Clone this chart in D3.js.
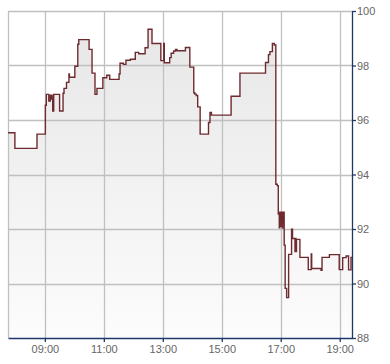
<!DOCTYPE html>
<html>
<head>
<meta charset="utf-8">
<script src="https://cdn.jsdelivr.net/npm/d3@7"></script>
<style>
  body { margin: 0; background: #fff; }
  svg text { font-family: Arial, "Liberation Sans", sans-serif; font-size: 11px; fill: #666; }
</style>
</head>
<body>
<svg id="chart" width="390" height="364"></svg>
<script>
// intraday price, step changes (time the price was set, price)
const times = [
    "07:45", "07:59", "08:44", "09:01", "09:03", "09:08", "09:11", "09:13", "09:14", "09:15",
    "09:16", "09:18", "09:30", "09:37", "09:39", "09:44", "09:49", "09:50", "10:01", "10:07",
    "10:09", "10:30", "10:36", "10:42", "10:46", "10:58", "11:06", "11:12", "11:31", "11:33",
    "11:40", "11:45", "11:54", "12:04", "12:11", "12:24", "12:30", "12:38", "12:56", "13:02",
    "13:03", "13:14", "13:17", "13:22", "13:26", "13:29", "13:46", "13:55", "14:03", "14:05",
    "14:08", "14:11", "14:16", "14:33", "14:36", "14:39", "15:19", "15:37", "16:29", "16:35",
    "16:38", "16:43", "16:47", "16:50", "16:53", "16:55", "16:57", "16:58", "16:59", "17:00",
    "17:01", "17:02", "17:03", "17:04", "17:05", "17:06", "17:07", "17:09", "17:12", "17:16",
    "17:22", "17:24", "17:29", "17:30", "17:31", "17:32", "17:39", "17:56", "18:02", "18:03",
    "18:22", "18:24", "18:39", "18:59", "19:06", "19:13", "19:18", "19:23", "19:25"
];
const prices = [
    95.53, 94.96, 95.48, 96.54, 96.94, 96.70, 96.91, 96.77, 96.90, 96.77,
    96.33, 96.94, 96.33, 96.98, 97.16, 97.38, 97.69, 97.57, 97.97, 98.78,
    98.95, 98.59, 97.72, 96.94, 97.16, 97.55, 97.64, 97.49, 97.69, 98.08,
    98.04, 98.19, 98.23, 98.48, 98.43, 98.65, 99.33, 98.81, 98.18, 98.81,
    98.10, 98.29, 98.45, 98.53, 98.59, 98.54, 98.66, 97.94, 97.00, 96.95,
    96.90, 96.48, 95.48, 95.91, 96.28, 96.18, 96.87, 97.72, 98.11, 98.40,
    98.51, 98.81, 98.75, 93.64, 93.59, 92.55, 92.04, 92.62, 92.10, 92.62,
    92.30, 92.62, 92.04, 92.62, 92.20, 92.62, 91.41, 89.82, 89.48, 91.07,
    91.99, 91.65, 91.17, 91.65, 91.17, 91.62, 90.96, 90.51, 91.08, 90.55,
    90.48, 90.96, 91.06, 90.51, 90.95, 91.01, 90.50, 90.96, 90.96
];
const timeTicks = ["09:00", "11:00", "13:00", "15:00", "17:00", "19:00"];
const priceTicks = [88, 90, 92, 94, 96, 98, 100];
const timeStart = "07:45";
const timeEnd = "19:25";

const parseTime = d3.timeParse("%H:%M");
const data = times.map((t, i) => ({ time: parseTime(t), price: prices[i] }));

const width = 390, height = 364;
const margin = { top: 11, right: 38, bottom: 26, left: 8 };

let svg = d3.select('svg#chart');

let x = d3.scaleTime()
    .domain([parseTime(timeStart), parseTime(timeEnd)])
    .range([margin.left, width - margin.right]);

let y = d3.scaleLinear()
    .domain([d3.min(priceTicks), d3.max(priceTicks)])
    .range([height - margin.bottom, margin.top]);

// background fill gradient
let grad = svg.append('defs').append('linearGradient')
    .attr('id', 'fill')
    .attr('gradientUnits', 'userSpaceOnUse')
    .attr('x1', 0).attr('x2', 0)
    .attr('y1', y(100)).attr('y2', y(88));
grad.append('stop').attr('offset', 0).attr('stop-color', '#e6e6e6');
grad.append('stop').attr('offset', 1).attr('stop-color', '#fcfcfc');

let area = d3.area()
    .curve(d3.curveStepAfter)
    .x(d => x(d.time))
    .y0(y(88))
    .y1(d => y(d.price));

svg.append('path')
    .datum(data)
    .attr('d', area)
    .attr('fill', 'url(#fill)');

// grid
let grid = svg.append('g')
    .attr('stroke', '#c0c0c0')
    .attr('stroke-width', 1.3);
grid.selectAll('line.h')
    .data(priceTicks.slice(1))
    .enter().append('line')
    .attr('x1', margin.left)
    .attr('x2', width - margin.right)
    .attr('y1', d => Math.round(y(d)) + 0.5)
    .attr('y2', d => Math.round(y(d)) + 0.5);
grid.selectAll('line.v')
    .data([timeStart].concat(timeTicks))
    .enter().append('line')
    .attr('x1', d => Math.round(x(parseTime(d))) + 0.5)
    .attr('x2', d => Math.round(x(parseTime(d))) + 0.5)
    .attr('y1', margin.top)
    .attr('y2', height - margin.bottom);

let line = d3.line()
    .curve(d3.curveStepAfter)
    .x(d => x(d.time))
    .y(d => y(d.price));

svg.append('path')
    .datum(data)
    .attr('d', line)
    .attr('fill', 'none')
    .attr('stroke', '#6e2a2f')
    .attr('stroke-width', 1.4);

// axes
let xAxis = svg.append('g')
    .attr('transform', 'translate(0,' + (height - margin.bottom) + ')')
    .call(d3.axisBottom(x)
        .tickValues(timeTicks.map(parseTime))
        .tickFormat(d3.timeFormat('%H:%M'))
        .tickSize(4)
        .tickSizeOuter(0)
        .tickPadding(3));

let yAxis = svg.append('g')
    .attr('transform', 'translate(' + (width - margin.right) + ',0)')
    .call(d3.axisRight(y)
        .tickValues(priceTicks)
        .tickSize(4)
        .tickSizeOuter(0)
        .tickPadding(1));

svg.selectAll('.domain, .tick line')
    .attr('stroke', '#1c3768')
    .attr('stroke-width', 1.3);
svg.selectAll('.tick text')
    .attr('fill', '#666')
    .style('font-size', '11px')
    .style('font-family', 'Arial, "Liberation Sans", sans-serif');
</script>
</body>
</html>
